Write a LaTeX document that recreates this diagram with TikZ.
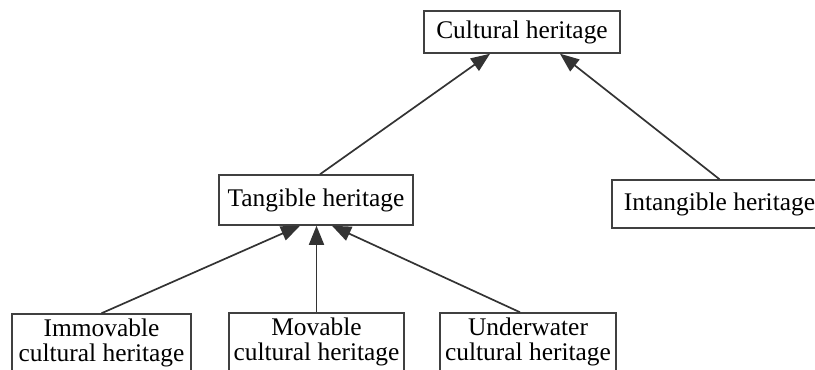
\documentclass[tikz,border=0pt]{standalone}
\usepackage{fontspec}
\setmainfont{Liberation Serif}
\usetikzlibrary{arrows.meta}
\tikzset{
  box/.style={draw=black!75, line width=1.5bp, inner sep=0pt, align=center,
    font=\fontsize{25.5}{25}\selectfont},
  link/.style={draw=black!80, line width=1.7bp, -{Triangle[length=19bp,width=15bp]}}
}
\begin{document}
\begin{tikzpicture}[x=1bp, y=-1bp]
    \useasboundingbox (0,0) rectangle (815,369);
    \clip (0,0) rectangle (815,369);

    % Boxes
    \node[box, minimum width=196bp, minimum height=42bp] (cult) at (522,32) {Cultural heritage};
    \node[box, minimum width=194bp, minimum height=50bp] (tang) at (316,200) {Tangible heritage};
    \node[box, minimum width=215bp, minimum height=48bp] (intang) at (719.5,204) {Intangible heritage};
    \node[box, minimum width=179bp, minimum height=58bp] (immov) at (101.5,343) {Immovable\\cultural heritage};
    \node[box, minimum width=175bp, minimum height=58bp] (mov) at (316.5,342) {Movable\\cultural heritage};
    \node[box, minimum width=176bp, minimum height=58bp] (under) at (528,342) {Underwater\\cultural heritage};

    % Arrows
    \draw[link] ([xshift=4bp]tang.north) -- ([xshift=-32bp]cult.south);
    \draw[link] (intang.north) -- ([xshift=38bp]cult.south);
    \draw[link] (immov.north) -- ([xshift=-16bp]tang.south);
    \draw[link] (mov.north) -- (mov.north |- tang.south);
    \draw[link] ([xshift=-8bp]under.north) -- ([xshift=16bp]tang.south);

\end{tikzpicture}
\end{document}
